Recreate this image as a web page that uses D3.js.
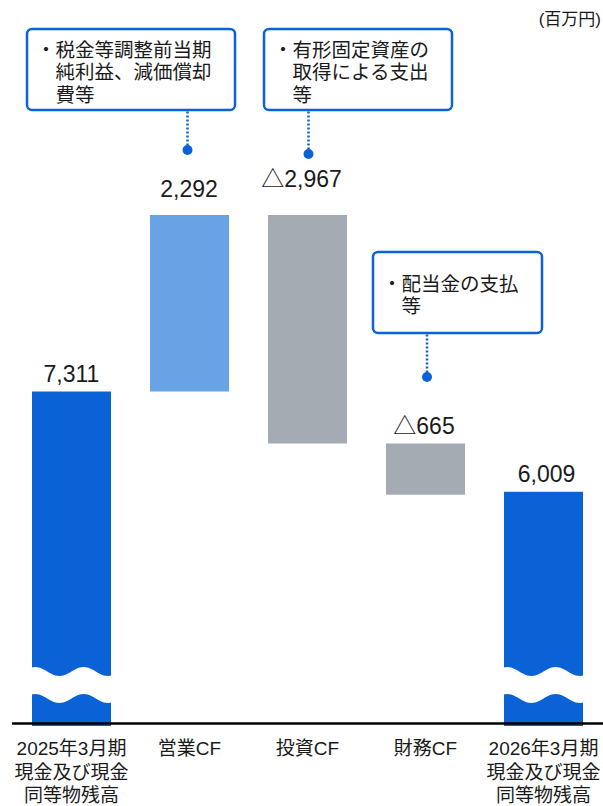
<!DOCTYPE html>
<html lang="ja">
<head>
<meta charset="utf-8">
<script src="https://cdn.jsdelivr.net/npm/d3@7"></script>
<style>
  html, body { margin: 0; padding: 0; background: #fff; }
  svg { display: block; }
  text { font-family: "Liberation Sans", "Noto Sans CJK JP", sans-serif; fill: #1a1a1a; }
</style>
</head>
<body>
<div id="chart"></div>
<script>
// ---- data ----
const categoryLines = [
    ['2025年3月期', '現金及び現金', '同等物残高'],
    ['営業CF'],
    ['投資CF'],
    ['財務CF'],
    ['2026年3月期', '現金及び現金', '同等物残高']
];
const values = [7311, 2292, -2967, -665, 6009];
const kinds = ['total', 'delta', 'delta', 'delta', 'total'];
const unitLabel = '(百万円)';

// callouts: which bar they point at + text lines
const noteTargets = [1, 2, 3];
const noteLines = [
    ['税金等調整前当期', '純利益、減価償却', '費等'],
    ['有形固定資産の', '取得による支出', '等'],
    ['配当金の支払', '等']
];

// ---- layout ----
const W = 603, H = 806;
const axisFloor = 3000;          // broken axis: totals start here
const baseY = 723.5, topY = 215;
const colors = { total: '#0a62d6', up: '#6aa2e6', down: '#a5abb2' };
const blue = '#0a62d6';
const labelGap = [10, 18, 28, 9, 10];
const labelDx = [0, -0.5, -6, -1.5, 3];
const noteBoxes = [
    { x: 27, y: 29, w: 208, h: 81, dotY: 150 },
    { x: 264, y: 29, w: 188, h: 81, dotY: 154 },
    { x: 373, y: 252, w: 169, h: 81, dotY: 377 }
];
const dotDx = [-2, 1, 1.5];

// waterfall steps
let running = 0;
const bars = values.map((v, i) => {
    let lo, hi;
    if (kinds[i] === 'total') {
        lo = axisFloor; hi = v; running = v;
    } else {
        const start = running;
        running += v;
        lo = Math.min(start, running); hi = Math.max(start, running);
    }
    const label = v < 0 ? '△' + d3.format(',')(-v) : d3.format(',')(v);
    const color = kinds[i] === 'total' ? colors.total : (v >= 0 ? colors.up : colors.down);
    return { i, v, lo, hi, label, color, kind: kinds[i] };
});

const x = d3.scaleBand()
    .domain(d3.range(values.length))
    .range([12.5, 602.5])
    .paddingInner(0.3305)
    .paddingOuter(0.1653);

const y = d3.scaleLinear()
    .domain([axisFloor, d3.max(bars, d => d.hi)])
    .range([baseY, topY]);

const svg = d3.select('#chart').append('svg')
    .attr('width', W).attr('height', H);

// bars
svg.append('g').selectAll('rect').data(bars).enter()
    .append('rect')
    .attr('x', d => x(d.i))
    .attr('width', x.bandwidth())
    .attr('y', d => y(d.hi))
    .attr('height', d => (d.kind === 'total' ? baseY + 2.5 : y(d.lo)) - y(d.hi))
    .attr('fill', d => d.color);

// wave break on the total bars
const waveY = (c, t) => c + 4.5 * Math.sin(2 * Math.PI * (t - 0.2) / 0.6);
const ts = d3.range(0, 1.0001, 0.025);
const line = d3.line();
bars.filter(d => d.kind === 'total').forEach(d => {
    const x0 = x(d.i) - 1, w = x.bandwidth() + 2;
    const upper = ts.map(t => [x0 + t * w, waveY(671.5, t)]);
    const lower = ts.slice().reverse().map(t => [x0 + t * w, waveY(698.5, t)]);
    svg.append('path')
        .attr('d', line(upper.concat(lower)) + 'Z')
        .attr('fill', '#fff');
});

// baseline
svg.append('line')
    .attr('x1', 12).attr('x2', W)
    .attr('y1', baseY).attr('y2', baseY)
    .attr('stroke', '#000').attr('stroke-width', 2.5);

// value labels
svg.append('g').selectAll('text').data(bars).enter()
    .append('text')
    .attr('x', d => x(d.i) + x.bandwidth() / 2 + labelDx[d.i])
    .attr('y', d => y(d.hi) - labelGap[d.i])
    .attr('text-anchor', 'middle')
    .attr('font-size', '23px')
    .text(d => d.label);

// category labels
const cat = svg.append('g').selectAll('text').data(categoryLines).enter()
    .append('text')
    .attr('text-anchor', 'middle')
    .attr('font-size', '19px');
cat.selectAll('tspan').data((d, i) => d.map(s => ({ s, i }))).enter()
    .append('tspan')
    .attr('x', d => x(d.i) + x.bandwidth() / 2)
    .attr('y', (d, j) => 755 + j * 23.5)
    .text(d => d.s);

// unit
svg.append('text')
    .attr('x', 601).attr('y', 25)
    .attr('text-anchor', 'end')
    .attr('font-size', '17px')
    .text(unitLabel);

// callouts
noteLines.forEach((lines, k) => {
    const b = noteBoxes[k];
    const cx = x(noteTargets[k]) + x.bandwidth() / 2 + dotDx[k];
    const g = svg.append('g');

    g.append('line')
        .attr('x1', cx).attr('x2', cx)
        .attr('y1', b.y + b.h + 1.5).attr('y2', b.dotY)
        .attr('stroke', blue).attr('stroke-width', 2.5)
        .attr('stroke-dasharray', '2,2');
    g.append('circle')
        .attr('cx', cx).attr('cy', b.dotY).attr('r', 5)
        .attr('fill', blue);

    g.append('rect')
        .attr('x', b.x).attr('y', b.y)
        .attr('width', b.w).attr('height', b.h)
        .attr('rx', 5)
        .attr('fill', '#fff')
        .attr('stroke', blue).attr('stroke-width', 2.5);

    const lh = 22.5;
    const firstCenter = b.y + b.h / 2 - (lines.length - 1) / 2 * lh + 3;
    g.append('text')
        .attr('x', b.x + 19).attr('y', firstCenter + 6.5)
        .attr('text-anchor', 'middle')
        .attr('font-size', '19.5px')
        .text('・');
    lines.forEach((s, j) => {
        g.append('text')
            .attr('x', b.x + 28.5)
            .attr('y', firstCenter + j * lh + 6.5)
            .attr('font-size', '19.5px')
            .text(s);
    });
});
</script>
</body>
</html>
